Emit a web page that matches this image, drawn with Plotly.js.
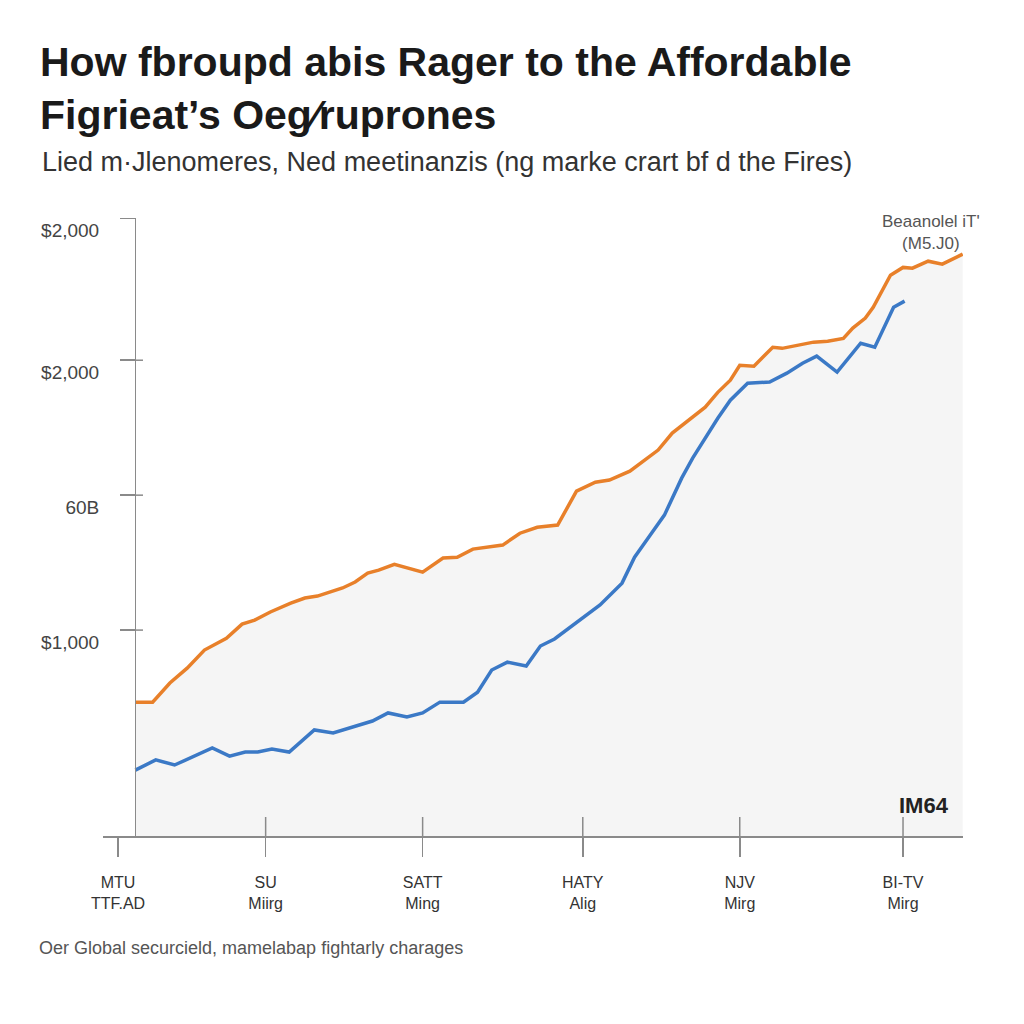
<!DOCTYPE html>
<html>
<head>
<meta charset="utf-8">
<script src="https://cdn.plot.ly/plotly-3.0.1.min.js"></script>
<style>html,body{margin:0;padding:0;background:#fff;}#chart{width:1024px;height:1024px;}</style>
</head>
<body>
<div id="chart"></div>
<script>
// ---- data ----
const orangeX = [0.11,0.22,0.33,0.44,0.55,0.69,0.79,0.87,0.97,1.10,1.19,1.27,1.43,1.51,1.59,1.66,1.76,1.94,2.07,2.16,2.26,2.45,2.56,2.67,2.80,2.92,3.04,3.13,3.26,3.34,3.44,3.53,3.63,3.74,3.82,3.90,3.96,4.05,4.17,4.23,4.43,4.52,4.62,4.68,4.76,4.81,4.92,5.00,5.06,5.16,5.25,5.38];
const orangeY = [733,733,804,859,926,970,1022,1037,1067,1100,1119,1126,1156,1178,1211,1222,1244,1215,1267,1270,1300,1315,1359,1381,1389,1515,1548,1556,1589,1622,1667,1730,1775,1826,1881,1926,1981,1978,2048,2044,2067,2070,2081,2119,2156,2196,2315,2344,2341,2367,2356,2393];
const blueX = [0.11,0.24,0.36,0.47,0.60,0.71,0.81,0.89,0.98,1.09,1.25,1.37,1.50,1.62,1.72,1.84,1.94,2.05,2.20,2.29,2.38,2.48,2.60,2.69,2.78,2.99,3.07,3.21,3.29,3.39,3.48,3.59,3.66,3.82,3.90,4.01,4.15,4.26,4.36,4.45,4.58,4.73,4.82,4.94,5.01];
const blueY = [481,519,500,530,563,533,548,548,559,548,630,619,641,663,693,678,693,733,733,770,852,881,867,941,967,1056,1093,1174,1270,1352,1426,1563,1637,1785,1852,1915,1919,1952,1989,2015,1956,2063,2048,2196,2219];
const xTicks = [0, 0.94, 1.94, 2.96, 3.96, 5];
const xTickLabels = ["MTU<br>TTF.AD", "SU<br>Miirg", "SATT<br>Ming", "HATY<br>Alig", "NJV<br>Mirg", "BI-TV<br>Mirg"];
const yTicks = [1000, 1500, 2000, 2526];
const yTickLabels = ["$1,000", "60B", "$2,000", "$2,000"];
const titleLines = ["How fbroupd abis Rager to the Affordable", "Figrieat’s Oeg⁄ruprones"];
const subtitleText = "Lied m·Jlenomeres, Ned meetinanzis (ng marke crart bf d the Fires)";
const seriesLabel = ["Beaanolel iT'", "(M5.J0)"];
const cornerLabel = "IM64";
const footerText = "Oer Global securcield, mamelabap fightarly charages";

// ---- chart ----
const yAxisPos = 0.0372;
const traces = [
  {x: orangeX, y: orangeY, type: 'scatter', mode: 'lines', name: 'orange',
   line: {color: '#E8802A', width: 3.5}, fill: 'tozeroy', fillcolor: '#F5F5F5', hoverinfo: 'skip'},
  {x: blueX, y: blueY, type: 'scatter', mode: 'lines', name: 'blue',
   line: {color: '#3B79C6', width: 3.5}, hoverinfo: 'skip'}
];

const shapes = [];
xTicks.slice(1).forEach(v => shapes.push({type: 'line', xref: 'x', yref: 'paper', ysizemode: 'pixel', yanchor: 0,
  x0: v, x1: v, y0: 0, y1: 19, line: {color: '#8a8a8a', width: 1.5}, layer: 'above'}));
yTicks.slice(0, 3).forEach(v => shapes.push({type: 'line', xref: 'paper', yref: 'y', xsizemode: 'pixel', xanchor: yAxisPos,
  x0: 0, x1: 8, y0: v, y1: v, line: {color: '#8a8a8a', width: 1.5}, layer: 'above'}));

const layout = {
  width: 1024, height: 1024,
  margin: {l: 103, r: 61, t: 218, b: 188},
  paper_bgcolor: '#ffffff', plot_bgcolor: '#ffffff',
  showlegend: false,
  font: {family: 'Liberation Sans, Arial, sans-serif', color: '#333'},
  title: {text: titleLines.join('<br>'), x: 40/1024, xref: 'container', xanchor: 'left',
          y: 1 - 76/1024, yref: 'container', yanchor: 'top',
          font: {family: 'Liberation Sans, Arial, sans-serif', size: 41, color: '#1a1a1a', weight: 'bold'}},
  xaxis: {range: [-0.096, 5.382], showgrid: false, zeroline: false, showline: true, linecolor: '#8a8a8a', linewidth: 1.5,
          tickmode: 'array', tickvals: xTicks, ticktext: xTickLabels, ticks: 'outside', ticklen: 19, tickwidth: 1.5,
          tickcolor: '#8a8a8a', ticklabelstandoff: 12, tickfont: {size: 16, color: '#333'}, fixedrange: true},
  yaxis: {range: [237, 2527], showgrid: false, zeroline: false, showline: true, linecolor: '#8a8a8a', linewidth: 1.5,
          anchor: 'free', position: yAxisPos,
          tickmode: 'array', tickvals: yTicks, ticktext: yTickLabels, ticks: 'outside', ticklen: 15, tickwidth: 1.5,
          tickcolor: '#8a8a8a', ticklabelstandoff: 17, ticklabelshift: 12, tickfont: {size: 19, color: '#444'}, fixedrange: true},
  shapes: shapes,
  annotations: [
    {text: subtitleText, xref: 'paper', yref: 'paper', x: -0.0733, y: 1.0906, xanchor: 'left', yanchor: 'middle',
     showarrow: false, font: {size: 27, color: '#333'}},
    {text: seriesLabel.join('<br>'), xref: 'paper', yref: 'paper', x: 0.9628, y: 0.977, xanchor: 'center', yanchor: 'middle',
     showarrow: false, font: {size: 17, color: '#555'}},
    {text: '<b>' + cornerLabel + '</b>', xref: 'paper', yref: 'paper', x: 0.955, y: 0.050, xanchor: 'center', yanchor: 'middle',
     showarrow: false, font: {size: 22, color: '#222'}},
    {text: footerText, xref: 'paper', yref: 'paper', x: -0.0767, y: -0.1812, xanchor: 'left', yanchor: 'middle',
     showarrow: false, font: {size: 18, color: '#555'}}
  ]
};

Plotly.newPlot('chart', traces, layout, {staticPlot: true, displayModeBar: false});
</script>
</body>
</html>
